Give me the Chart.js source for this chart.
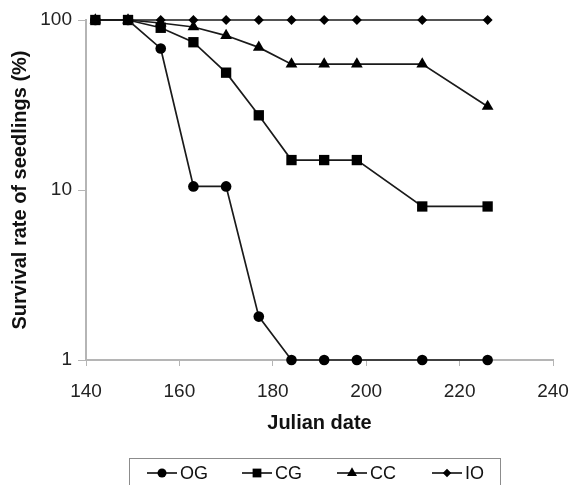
<!DOCTYPE html>
<html>
<head>
<meta charset="utf-8">
<script src="https://cdn.jsdelivr.net/npm/chart.js@4.4.1/dist/chart.umd.min.js"></script>
<style>
  html, body { margin: 0; padding: 0; background: #fff; }
  #wrap { width: 572px; height: 485px; position: relative; }
</style>
</head>
<body>
<div id="wrap"><canvas id="survivalChart"></canvas></div>
<script>
// Survival of seedlings by Julian date (log scale)
const julianDates = [142, 149, 156, 163, 170, 177, 184, 191, 198, 212, 226];
const ogValues = [100, 100, 68, 10.5, 10.5, 1.8, 1, 1, 1, 1, 1];
const cgValues = [100, 100, 90, 74, 49, 27.5, 15, 15, 15, 8, 8];
const ccValues = [100, 100, 96, 91, 81, 69, 55, 55, 55, 55, 31];
const ioValues = [100, 100, 100, 100, 100, 100, 100, 100, 100, 100, 100];
const seriesNames = ['OG', 'CG', 'CC', 'IO'];
const yTicks = [1, 10, 100];

const FONT = '"Liberation Sans", Arial, sans-serif';
const LINE = '#1a1a1a';
const AXIS = '#b5b5b5';

function points(values) {
  return julianDates.map((d, i) => ({ x: d, y: values[i] }));
}

function series(label, values, style, radius) {
  return {
    label: label,
    data: points(values),
    borderColor: LINE,
    backgroundColor: '#000',
    borderWidth: 1.7,
    pointStyle: style,
    pointRadius: radius,
    pointBorderWidth: 0,
    pointBackgroundColor: '#000',
    tension: 0,
    clip: false
  };
}

// Axis titles + boxed legend drawn by hand
const extras = {
  id: 'extras',
  afterDraw(chart) {
    const ctx = chart.ctx;
    const area = chart.chartArea;
    ctx.save();
    ctx.fillStyle = '#111';
    ctx.font = 'bold 20px ' + FONT;
    ctx.textAlign = 'center';
    ctx.textBaseline = 'middle';
    ctx.fillText('Julian date', (area.left + area.right) / 2, 423);
    ctx.save();
    ctx.translate(20, (area.top + area.bottom) / 2);
    ctx.rotate(-Math.PI / 2);
    ctx.fillText('Survival rate of seedlings (%)', 0, 0);
    ctx.restore();

    // legend
    ctx.strokeStyle = '#8c8c8c';
    ctx.lineWidth = 1;
    ctx.strokeRect(129.5, 458.5, 371, 40);
    ctx.font = '18px ' + FONT;
    ctx.textAlign = 'left';
    const cy = 473;
    chart.data.datasets.forEach((ds, i) => {
      const sx = 147 + i * 95;
      ctx.strokeStyle = LINE;
      ctx.lineWidth = 1.7;
      ctx.beginPath();
      ctx.moveTo(sx, cy);
      ctx.lineTo(sx + 30, cy);
      ctx.stroke();
      ctx.fillStyle = '#000';
      Chart.helpers.drawPoint(ctx, {
        pointStyle: ds.pointStyle,
        radius: ds.pointRadius * 0.85,
        rotation: 0,
        borderWidth: 0
      }, sx + 15, cy);
      ctx.fillStyle = '#111';
      ctx.fillText(ds.label, sx + 33, cy + 1);
    });
    ctx.restore();
  }
};

new Chart(document.getElementById('survivalChart'), {
  type: 'line',
  data: {
    datasets: [
      series(seriesNames[0], ogValues, 'circle', 5.3),
      series(seriesNames[1], cgValues, 'rect', 7.3),
      series(seriesNames[2], ccValues, 'triangle', 6.8),
      series(seriesNames[3], ioValues, 'rectRot', 5)
    ]
  },
  options: {
    responsive: true,
    maintainAspectRatio: false,
    animation: false,
    layout: { padding: { left: 0, top: 20, right: 19, bottom: 80 } },
    plugins: {
      legend: { display: false },
      tooltip: { enabled: false }
    },
    scales: {
      x: {
        type: 'linear',
        min: 140,
        max: 240,
        ticks: {
          stepSize: 20,
          color: '#222',
          padding: 14,
          maxRotation: 0,
          font: { family: FONT, size: 19 }
        },
        grid: { display: true, drawOnChartArea: false, drawTicks: true, tickLength: 6, color: AXIS },
        border: { color: AXIS, width: 2 },
        afterFit(scale) {
          scale.height = 45;
          scale.paddingLeft = 0;
          scale.paddingRight = 0;
        }
      },
      y: {
        type: 'logarithmic',
        min: 1,
        max: 100,
        afterBuildTicks(scale) {
          scale.ticks = yTicks.map(v => ({ value: v }));
        },
        ticks: {
          color: '#222',
          padding: 6,
          callback: v => String(v),
          font: { family: FONT, size: 19 }
        },
        grid: { display: true, drawOnChartArea: false, drawTicks: true, tickLength: 8, color: AXIS },
        border: { color: AXIS, width: 2 },
        afterFit(scale) {
          scale.width = 86;
          scale.paddingTop = 0;
          scale.paddingBottom = 0;
        }
      }
    }
  },
  plugins: [extras]
});
</script>
</body>
</html>
